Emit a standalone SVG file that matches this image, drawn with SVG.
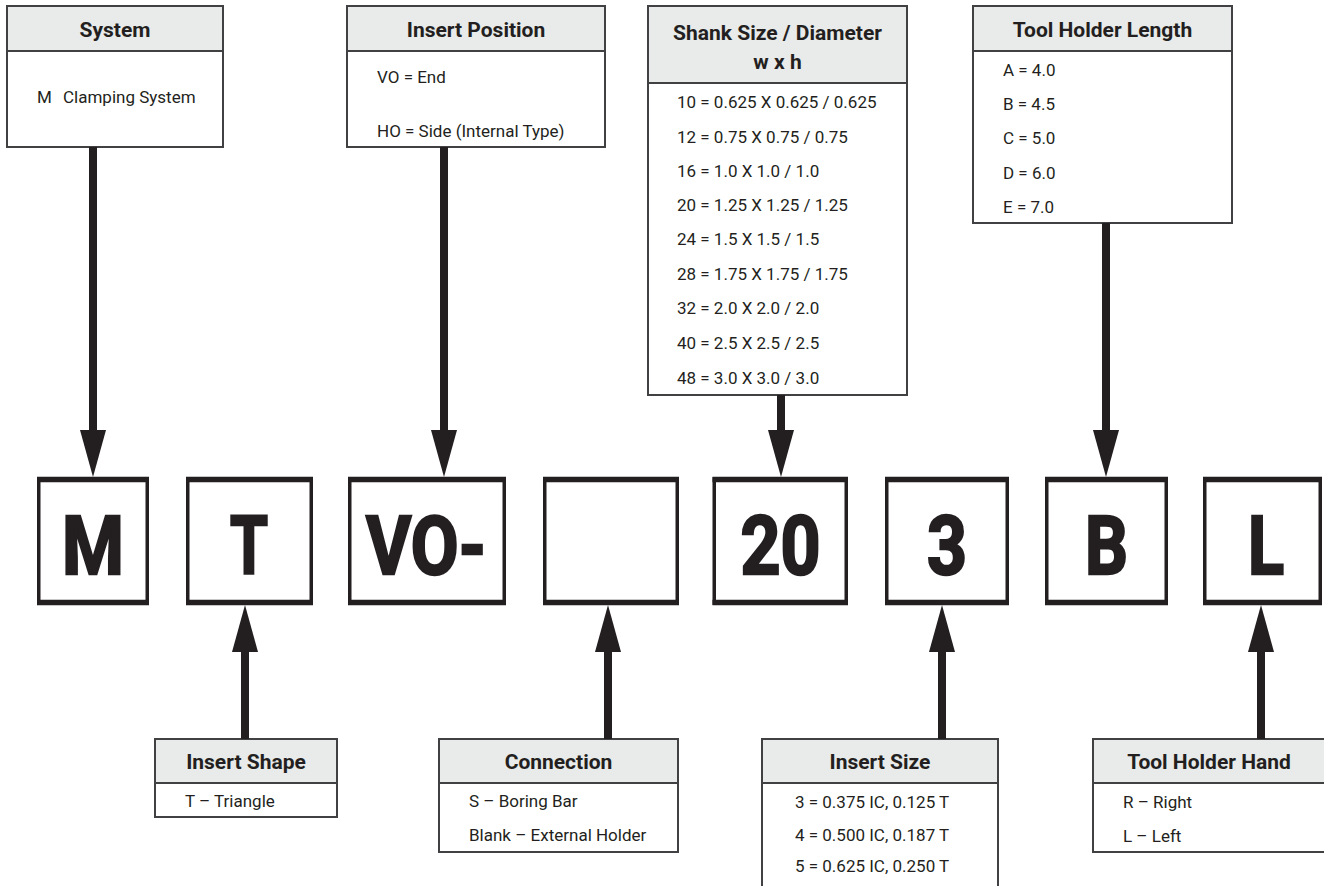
<svg xmlns="http://www.w3.org/2000/svg" width="1324" height="886" viewBox="0 0 1324 886">
<style>
.box{fill:#fff;stroke:#414042;stroke-width:2}
.hdr{fill:#e9eaea;stroke:#414042;stroke-width:2}
.txt{font-family:Roboto,"Liberation Sans",sans-serif;font-size:17px;fill:#231f20}
.ttl{font-family:Roboto,"Liberation Sans",sans-serif;font-size:21px;font-weight:bold;fill:#231f20;text-anchor:middle}
.code{fill:#fff;stroke:#231f20;stroke-width:3.5}
.edge{stroke:#231f20;stroke-width:5.5;fill:none}
.big{font-family:Roboto,"Liberation Sans",sans-serif;font-size:82px;font-weight:bold;fill:#231f20;stroke:#231f20;stroke-width:2.5;text-anchor:middle}
.arr{stroke:#231f20;stroke-width:8;fill:none}
</style>
<defs>
<marker id="head" markerUnits="userSpaceOnUse" viewBox="0 0 47 26" markerWidth="47" markerHeight="26" refX="1" refY="13" orient="auto">
<path d="M0,0 L47,13 L0,26 Z" fill="#231f20"/>
</marker>
</defs>
<rect width="1324" height="886" fill="#fff"/>

<g id="system">
<rect class="box" x="7" y="6" width="216" height="141"/>
<rect class="hdr" x="7" y="6" width="216" height="45"/>
<text class="ttl" x="115" y="37">System</text>
<text class="txt" x="37" y="103">M<tspan x="63">Clamping System</tspan></text>
</g>

<g id="insert-position">
<rect class="box" x="347" y="6" width="258" height="141"/>
<rect class="hdr" x="347" y="6" width="258" height="45"/>
<text class="ttl" x="476" y="37">Insert Position</text>
<text class="txt" x="377" y="83">VO = End</text>
<text class="txt" x="377" y="137">HO = Side (Internal Type)</text>
</g>

<g id="shank-size">
<rect class="box" x="648" y="6" width="259" height="389"/>
<rect class="hdr" x="648" y="6" width="259" height="77"/>
<text class="ttl" x="777.5" y="40">Shank Size / Diameter</text>
<text class="ttl" x="777.5" y="69">w x h</text>
<text class="txt" x="677" y="108">10 = 0.625 X 0.625 / 0.625</text>
<text class="txt" x="677" y="143">12 = 0.75 X 0.75 / 0.75</text>
<text class="txt" x="677" y="177">16 = 1.0 X 1.0 / 1.0</text>
<text class="txt" x="677" y="211">20 = 1.25 X 1.25 / 1.25</text>
<text class="txt" x="677" y="245">24 = 1.5 X 1.5 / 1.5</text>
<text class="txt" x="677" y="280">28 = 1.75 X 1.75 / 1.75</text>
<text class="txt" x="677" y="314">32 = 2.0 X 2.0 / 2.0</text>
<text class="txt" x="677" y="349">40 = 2.5 X 2.5 / 2.5</text>
<text class="txt" x="677" y="384">48 = 3.0 X 3.0 / 3.0</text>
</g>

<g id="tool-holder-length">
<rect class="box" x="973" y="6" width="259" height="217"/>
<rect class="hdr" x="973" y="6" width="259" height="45"/>
<text class="ttl" x="1102.5" y="37">Tool Holder Length</text>
<text class="txt" x="1003" y="76">A = 4.0</text>
<text class="txt" x="1003" y="110">B = 4.5</text>
<text class="txt" x="1003" y="144">C = 5.0</text>
<text class="txt" x="1003" y="179">D = 6.0</text>
<text class="txt" x="1003" y="213">E = 7.0</text>
</g>

<g id="code-m"><rect class="code" x="38.75" y="479" width="108.5" height="124"/><path class="edge" d="M37,479.5H149M37,602.5H149"/><text class="big" x="93" y="574" textLength="62" lengthAdjust="spacingAndGlyphs">M</text></g>
<g id="code-t"><rect class="code" x="187.75" y="479" width="123.5" height="124"/><path class="edge" d="M186,479.5H313M186,602.5H313"/><text class="big" x="249" y="574" textLength="38" lengthAdjust="spacingAndGlyphs">T</text></g>
<g id="code-vo"><rect class="code" x="349.75" y="479" width="154.5" height="124"/><path class="edge" d="M348,479.5H506M348,602.5H506"/><text class="big" x="426" y="574" textLength="120" lengthAdjust="spacingAndGlyphs">VO-</text></g>
<g id="code-blank"><rect class="code" x="544.75" y="479" width="132.5" height="124"/><path class="edge" d="M543,479.5H679M543,602.5H679"/></g>
<g id="code-20"><rect class="code" x="714.25" y="479" width="132" height="124"/><path class="edge" d="M712.5,479.5H848M712.5,602.5H848"/><text class="big" x="780.5" y="574" textLength="80" lengthAdjust="spacingAndGlyphs">20</text></g>
<g id="code-3"><rect class="code" x="886.75" y="479" width="120.5" height="124"/><path class="edge" d="M885,479.5H1009M885,602.5H1009"/><text class="big" x="947" y="574" textLength="40" lengthAdjust="spacingAndGlyphs">3</text></g>
<g id="code-b"><rect class="code" x="1046.75" y="479" width="119.5" height="124"/><path class="edge" d="M1045,479.5H1168M1045,602.5H1168"/><text class="big" x="1106.5" y="574" textLength="43" lengthAdjust="spacingAndGlyphs">B</text></g>
<g id="code-l"><rect class="code" x="1204.75" y="479" width="115.5" height="124"/><path class="edge" d="M1203,479.5H1322M1203,602.5H1322"/><text class="big" x="1266" y="574" textLength="36" lengthAdjust="spacingAndGlyphs">L</text></g>

<g id="insert-shape">
<rect class="box" x="155" y="739" width="182" height="78"/>
<rect class="hdr" x="155" y="739" width="182" height="44"/>
<text class="ttl" x="246" y="769">Insert Shape</text>
<text class="txt" x="185" y="807">T – Triangle</text>
</g>

<g id="connection">
<rect class="box" x="439" y="739" width="239" height="113"/>
<rect class="hdr" x="439" y="739" width="239" height="44"/>
<text class="ttl" x="558.5" y="769">Connection</text>
<text class="txt" x="469" y="807">S – Boring Bar</text>
<text class="txt" x="469" y="841">Blank – External Holder</text>
</g>

<g id="insert-size">
<rect class="box" x="762" y="739" width="236" height="160"/>
<rect class="hdr" x="762" y="739" width="236" height="44"/>
<text class="ttl" x="880" y="769">Insert Size</text>
<text class="txt" x="795" y="808">3 = 0.375 IC, 0.125 T</text>
<text class="txt" x="795" y="841">4 = 0.500 IC, 0.187 T</text>
<text class="txt" x="795" y="872">5 = 0.625 IC, 0.250 T</text>
</g>

<g id="tool-holder-hand">
<rect class="box" x="1093" y="739" width="240" height="113"/>
<rect class="hdr" x="1093" y="739" width="240" height="44"/>
<text class="ttl" x="1209" y="769">Tool Holder Hand</text>
<text class="txt" x="1123" y="808">R – Right</text>
<text class="txt" x="1123" y="842">L – Left</text>
</g>

<g id="connectors">
<line class="arr" x1="93" y1="147" x2="93" y2="431" marker-end="url(#head)"/>
<line class="arr" x1="444" y1="147" x2="444" y2="431" marker-end="url(#head)"/>
<line class="arr" x1="781" y1="395" x2="781" y2="431" marker-end="url(#head)"/>
<line class="arr" x1="1106" y1="223" x2="1106" y2="431" marker-end="url(#head)"/>
<line class="arr" x1="245" y1="739" x2="245" y2="651" marker-end="url(#head)"/>
<line class="arr" x1="608" y1="739" x2="608" y2="651" marker-end="url(#head)"/>
<line class="arr" x1="942" y1="739" x2="942" y2="651" marker-end="url(#head)"/>
<line class="arr" x1="1261" y1="739" x2="1261" y2="651" marker-end="url(#head)"/>
</g>
</svg>
